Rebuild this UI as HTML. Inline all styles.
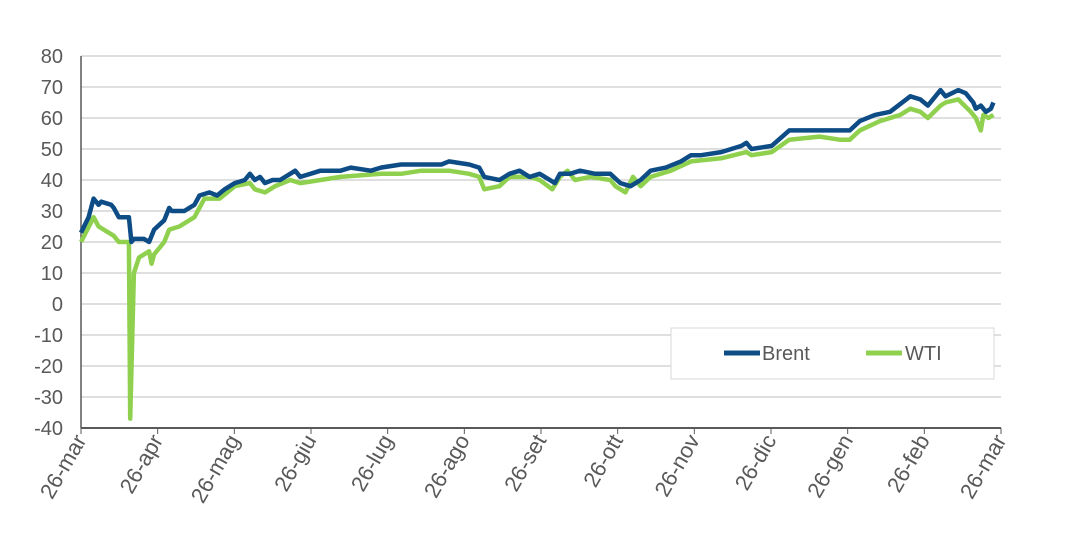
<!DOCTYPE html>
<html><head><meta charset="utf-8"><style>
body{margin:0;background:#fff;}
svg{display:block;font-family:"Liberation Sans",Arial,sans-serif;}
</style></head><body>
<svg id="chart" width="1066" height="552" viewBox="0 0 1066 552">
<g id="grid"></g>
<g id="yticks"></g>
<g id="xticks"></g>
<g id="series"></g>
<g>
<rect x="671" y="328" width="323" height="51" fill="#fff" stroke="#d9d9d9"/>
<line x1="724" y1="353" x2="760" y2="353" stroke="#0e4c86" stroke-width="5"/>
<text x="762" y="360" font-size="20" fill="#595959">Brent</text>
<line x1="866" y1="353" x2="902" y2="353" stroke="#8fd14f" stroke-width="5"/>
<text x="905" y="360" font-size="20" fill="#595959">WTI</text>
</g>
</svg>
<script>
const yTicks=[80,70,60,50,40,30,20,10,0,-10,-20,-30,-40];
const xLabels=["26-mar","26-apr","26-mag","26-giu","26-lug","26-ago","26-set","26-ott","26-nov","26-dic","26-gen","26-feb","26-mar"];
const brentDays=[0,3,5,7,8,12,13,15,19,20,21,25,27,29,33,35,36,38,41,45,47,51,54,57,61,65,67,69,71,73,76,79,83,85,87,91,95,103,107,115,119,127,135,143,146,154,158,160,166,170,174,178,182,188,190,194,198,204,210,214,218,222,226,232,238,242,246,254,262,264,266,274,281,289,297,305,309,315,321,329,333,336,341,343,348,351,354,355,357,359,361,362];
const brentVals=[23,28,34,32,33,32,31,28,28,20,21,21,20,24,27,31,30,30,30,32,35,36,35,37,39,40,42,40,41,39,40,40,42,43,41,42,43,43,44,43,44,45,45,45,46,45,44,41,40,42,43,41,42,39,42,42,43,42,42,39,38,40,43,44,46,48,48,49,51,52,50,51,56,56,56,56,59,61,62,67,66,64,69,67,69,68,65,63,64,62,63,65];
const wtiDays=[0,5,7,13,15,19,19.5,21,23,27,28,29,33,35,39,45,49,55,61,67,69,73,77,83,87,95,103,119,127,135,146,154,158,160,166,170,178,182,187,190,193,196,202,210,212,216,219,222,226,234,242,254,264,266,274,281,293,301,305,309,317,325,329,333,336,341,343,348,353,355,357,358,360,362];
const wtiVals=[20,28,25,22,20,20,-37,10,15,17,13,16,20,24,25,28,34,34,38,39,37,36,38,40,39,40,41,42,42,43,43,42,41,37,38,41,41,40,37,41,43,40,41,40,38,36,41,38,41,43,46,47,49,48,49,53,54,53,53,56,59,61,63,62,60,64,65,66,62,60,56,61,60,61];
const X0=81,X1=1001,Y0=56,Y1=428,DAYS=365;
const xs=d=>X0+(X1-X0)*d/DAYS;
const ys=v=>Y0+(80-v)*(Y1-Y0)/120;
const NS="http://www.w3.org/2000/svg";
function mk(tag,parent){const e=document.createElementNS(NS,tag);document.getElementById(parent).appendChild(e);return e;}
yTicks.forEach(v=>{
  const l=mk("line","grid");
  
  
  l.setAttribute("x1",X0);l.setAttribute("x2",X1);l.setAttribute("y1",ys(v));l.setAttribute("y2",ys(v));
  l.setAttribute("stroke",v===-40?"#595959":"#bfbfbf");l.setAttribute("stroke-width",v===-40?2:1);
  const t=mk("text","yticks");
  
  
  t.setAttribute("x",63);t.setAttribute("y",ys(v)+7);t.setAttribute("text-anchor","end");
  t.setAttribute("font-size","20");t.setAttribute("fill","#595959");t.textContent=v;
});
const ax=mk("line","grid");


ax.setAttribute("x1",X0);ax.setAttribute("x2",X0);ax.setAttribute("y1",Y0);ax.setAttribute("y2",Y1);ax.setAttribute("stroke","#595959");ax.setAttribute("stroke-width",1.5);
xLabels.forEach((s,i)=>{
  const x=X0+(X1-X0)*i/(xLabels.length-1);
  const tk=mk("line","grid");
  
  
  tk.setAttribute("x1",x);tk.setAttribute("x2",x);tk.setAttribute("y1",Y1);tk.setAttribute("y2",Y1+6);tk.setAttribute("stroke","#595959");
  const t=mk("text","xticks");
  
  
  t.setAttribute("transform",`translate(${x+6},${Y1+12}) rotate(-60)`);
  t.setAttribute("text-anchor","end");t.setAttribute("font-size","22");t.setAttribute("fill","#595959");t.textContent=s;
});
function line(days,vals,color,name){
  const p=mk("polyline","series");
  
  
  p.setAttribute("points",days.map((d,i)=>xs(d).toFixed(1)+","+ys(vals[i]).toFixed(1)).join(" "));
  p.setAttribute("fill","none");p.setAttribute("stroke",color);p.setAttribute("stroke-width",4.5);p.setAttribute("stroke-linejoin","round");
}
line(wtiDays,wtiVals,"#8fd14f","wti-line");
line(brentDays,brentVals,"#0e4c86","brent-line");
</script>
</body></html>
